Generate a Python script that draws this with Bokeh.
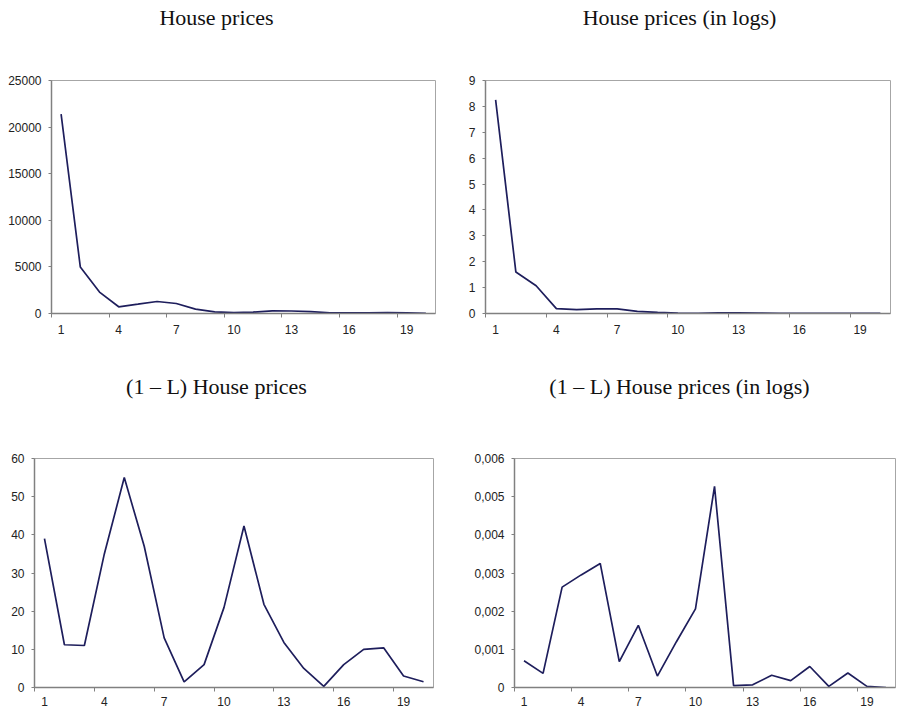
from bokeh.plotting import figure
from bokeh.layouts import column, row
from bokeh.models import Range1d, FixedTicker
from bokeh.core.properties import value
from bokeh.embed import file_html
from bokeh.resources import INLINE

periods = list(range(1, 21))
x_tick_labels = [1, 4, 7, 10, 13, 16, 19]
x_tick_marks = [0.5, 3.5, 6.5, 9.5, 12.5, 15.5, 18.5]

house_prices = [21400, 5000, 2300, 720, 1000, 1290, 1070, 470, 180, 90,
                150, 290, 270, 200, 80, 60, 80, 100, 60, 20]
house_prices_logs = [8.25, 1.6, 1.07, 0.19, 0.15, 0.18, 0.18, 0.08, 0.04, 0.013,
                     0.01, 0.025, 0.025, 0.02, 0.01, 0.008, 0.01, 0.01, 0.008, 0.005]
diff_house_prices = [39, 11.2, 11, 35, 55, 37, 13, 1.5, 6, 21,
                     42.3, 21.8, 11.8, 5, 0.3, 6, 10, 10.4, 3, 1.5]
diff_house_prices_logs = [0.0007, 0.00037, 0.00263, 0.00295, 0.00325, 0.00068, 0.00163, 0.0003, 0.0012, 0.00206,
                          0.00527, 0.00005, 0.00007, 0.00032, 0.00018, 0.00055, 0.00003, 0.00038, 0.00003, 0.0]

titles = ["House prices", "House prices (in logs)",
          "(1 \u2013 L) House prices", "(1 \u2013 L) House prices (in logs)"]
y_ticks_1 = [0, 5000, 10000, 15000, 20000, 25000]
y_ticks_2 = [0, 1, 2, 3, 4, 5, 6, 7, 8, 9]
y_ticks_3 = [0, 10, 20, 30, 40, 50, 60]
y_ticks_4 = [0, 0.001, 0.002, 0.003, 0.004, 0.005, 0.006]
y_labels_4 = ["0", "0,001", "0,002", "0,003", "0,004", "0,005", "0,006"]

LINE = "#1e1e5c"
AXIS = "#808080"
OUTLINE = "#a6a6a6"


def title_fig(title, width, height, frame_x0, frame_x1, center_x, base_y):
    # the strip's frame is aligned with the chart frame below it, so its
    # x range is expressed in page pixels spanning that frame
    t = figure(width=width, height=height, output_backend="svg", toolbar_location=None,
               x_range=Range1d(frame_x0, frame_x1), y_range=Range1d(0, height),
               x_axis_type=None, y_axis_type=None, min_border=0)
    t.outline_line_color = None
    t.background_fill_color = "white"
    t.border_fill_color = "white"
    t.text(x=[center_x], y=[base_y], text=[title], text_align="center", text_baseline="alphabetic",
           text_font=value("Liberation Serif"), text_font_size="22px", text_color="#111111")
    return t


def panel(ys, yticks, ylabels, width, height, bl, br, bt, bb, xstand):
    p = figure(width=width, height=height, output_backend="svg", toolbar_location=None,
               x_range=Range1d(0.5, 20.5), y_range=Range1d(yticks[0], yticks[-1]),
               min_border_left=bl, min_border_right=br, min_border_top=bt, min_border_bottom=bb)
    p.background_fill_color = "white"
    p.border_fill_color = "white"
    p.outline_line_color = OUTLINE
    p.outline_line_width = 1
    p.xgrid.visible = False
    p.ygrid.visible = False

    xa = p.xaxis[0]
    xa.ticker = FixedTicker(ticks=x_tick_labels, minor_ticks=x_tick_marks)
    xa.major_tick_line_color = None
    xa.major_tick_out = 4
    xa.major_tick_in = 0
    xa.minor_tick_line_color = AXIS
    xa.minor_tick_out = 4
    xa.minor_tick_in = 0
    xa.axis_line_color = AXIS
    xa.axis_line_width = 1.5
    xa.major_label_standoff = xstand
    xa.major_label_text_font = "Liberation Sans"
    xa.major_label_text_font_size = "12px"
    xa.major_label_text_color = "#222222"

    ya = p.yaxis[0]
    ya.ticker = FixedTicker(ticks=yticks)
    ya.major_tick_line_color = AXIS
    ya.major_tick_out = 3
    ya.major_tick_in = 0
    ya.minor_tick_line_color = None
    ya.axis_line_color = AXIS
    ya.axis_line_width = 1.5
    ya.major_label_standoff = 7
    ya.major_label_text_font = "Liberation Sans"
    ya.major_label_text_font_size = "12px"
    ya.major_label_text_color = "#222222"
    ya.major_label_overrides = {tv: lab for tv, lab in zip(yticks, ylabels)}

    p.line(periods, ys, line_color=LINE, line_width=1.7)
    return p


# top row: title strips 0..40, charts 40..350 (frames y 80..313)
t1 = title_fig(titles[0], 448, 40, 51, 435, 216, 40 - 16.5)
t2 = title_fig(titles[1], 450, 40, 485, 890, 679, 40 - 16.5)
p1 = panel(house_prices, y_ticks_1, [str(v) for v in y_ticks_1],
           448, 310, 51, 13, 40, 37, 7)
p2 = panel(house_prices_logs, y_ticks_2, [str(v) for v in y_ticks_2],
           450, 310, 37, 8, 40, 37, 7)

# bottom row: title strips 350..420, charts 420..711 (frames y 458..687)
t3 = title_fig(titles[2], 448, 70, 34, 433, 216, 420 - 386)
t4 = title_fig(titles[3], 450, 70, 514, 895, 679, 420 - 386)
p3 = panel(diff_house_prices, y_ticks_3, [str(v) for v in y_ticks_3],
           448, 291, 34, 15, 38, 24, 5)
p4 = panel(diff_house_prices_logs, y_ticks_4, y_labels_4,
           450, 291, 66, 3, 38, 24, 5)

layout = column(row(column(t1, p1), column(t2, p2)),
                row(column(t3, p3), column(t4, p4)))
open("out.html", "w").write(file_html(layout, INLINE))
